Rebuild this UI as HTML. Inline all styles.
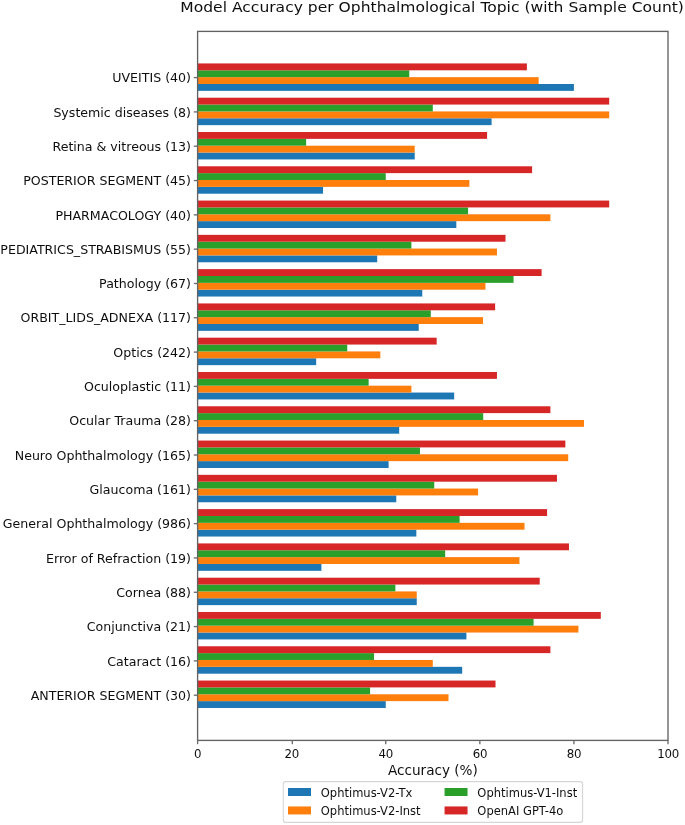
<!DOCTYPE html>
<html lang="en"><head><meta charset="utf-8"><title>Model Accuracy per Ophthalmological Topic</title>
<style>html,body{margin:0;padding:0;background:#fff;}svg{display:block;}text{font-family:"DejaVu Sans","Liberation Sans",sans-serif;fill:#111;}</style></head><body>
<svg width="685" height="825" viewBox="0 0 685 825">
<rect width="685" height="825" fill="#fff"/>
<defs><filter id="soft" x="0" y="0" width="685" height="825" filterUnits="userSpaceOnUse"><feGaussianBlur stdDeviation="0.32"/></filter></defs>
<g filter="url(#soft)">
<g shape-rendering="auto">
<rect x="197.60" y="701.12" width="188.16" height="6.86" fill="#1f77b4"/>
<rect x="197.60" y="694.26" width="250.88" height="6.86" fill="#ff7f0e"/>
<rect x="197.60" y="687.40" width="172.48" height="6.86" fill="#2ca02c"/>
<rect x="197.60" y="680.55" width="297.92" height="6.86" fill="#d62728"/>
<rect x="197.60" y="666.83" width="264.60" height="6.86" fill="#1f77b4"/>
<rect x="197.60" y="659.97" width="235.20" height="6.86" fill="#ff7f0e"/>
<rect x="197.60" y="653.12" width="176.40" height="6.86" fill="#2ca02c"/>
<rect x="197.60" y="646.26" width="352.80" height="6.86" fill="#d62728"/>
<rect x="197.60" y="632.55" width="268.80" height="6.86" fill="#1f77b4"/>
<rect x="197.60" y="625.69" width="380.80" height="6.86" fill="#ff7f0e"/>
<rect x="197.60" y="618.83" width="336.00" height="6.86" fill="#2ca02c"/>
<rect x="197.60" y="611.98" width="403.20" height="6.86" fill="#d62728"/>
<rect x="197.60" y="598.26" width="219.16" height="6.86" fill="#1f77b4"/>
<rect x="197.60" y="591.41" width="219.16" height="6.86" fill="#ff7f0e"/>
<rect x="197.60" y="584.55" width="197.78" height="6.86" fill="#2ca02c"/>
<rect x="197.60" y="577.69" width="342.11" height="6.86" fill="#d62728"/>
<rect x="197.60" y="563.98" width="123.79" height="6.86" fill="#1f77b4"/>
<rect x="197.60" y="557.12" width="321.85" height="6.86" fill="#ff7f0e"/>
<rect x="197.60" y="550.26" width="247.58" height="6.86" fill="#2ca02c"/>
<rect x="197.60" y="543.41" width="371.37" height="6.86" fill="#d62728"/>
<rect x="197.60" y="529.69" width="218.74" height="6.86" fill="#1f77b4"/>
<rect x="197.60" y="522.84" width="326.93" height="6.86" fill="#ff7f0e"/>
<rect x="197.60" y="515.98" width="262.01" height="6.86" fill="#2ca02c"/>
<rect x="197.60" y="509.12" width="349.51" height="6.86" fill="#d62728"/>
<rect x="197.60" y="495.41" width="198.68" height="6.86" fill="#1f77b4"/>
<rect x="197.60" y="488.55" width="280.49" height="6.86" fill="#ff7f0e"/>
<rect x="197.60" y="481.70" width="236.66" height="6.86" fill="#2ca02c"/>
<rect x="197.60" y="474.84" width="359.37" height="6.86" fill="#d62728"/>
<rect x="197.60" y="461.13" width="191.01" height="6.86" fill="#1f77b4"/>
<rect x="197.60" y="454.27" width="370.62" height="6.86" fill="#ff7f0e"/>
<rect x="197.60" y="447.41" width="222.37" height="6.86" fill="#2ca02c"/>
<rect x="197.60" y="440.55" width="367.77" height="6.86" fill="#d62728"/>
<rect x="197.60" y="426.84" width="201.60" height="6.86" fill="#1f77b4"/>
<rect x="197.60" y="419.98" width="386.40" height="6.86" fill="#ff7f0e"/>
<rect x="197.60" y="413.13" width="285.60" height="6.86" fill="#2ca02c"/>
<rect x="197.60" y="406.27" width="352.80" height="6.86" fill="#d62728"/>
<rect x="197.60" y="392.56" width="256.58" height="6.86" fill="#1f77b4"/>
<rect x="197.60" y="385.70" width="213.82" height="6.86" fill="#ff7f0e"/>
<rect x="197.60" y="378.84" width="171.05" height="6.86" fill="#2ca02c"/>
<rect x="197.60" y="371.99" width="299.35" height="6.86" fill="#d62728"/>
<rect x="197.60" y="358.27" width="118.57" height="6.86" fill="#1f77b4"/>
<rect x="197.60" y="351.42" width="182.72" height="6.86" fill="#ff7f0e"/>
<rect x="197.60" y="344.56" width="149.67" height="6.86" fill="#2ca02c"/>
<rect x="197.60" y="337.70" width="239.09" height="6.86" fill="#d62728"/>
<rect x="197.60" y="323.99" width="221.13" height="6.86" fill="#1f77b4"/>
<rect x="197.60" y="317.13" width="285.46" height="6.86" fill="#ff7f0e"/>
<rect x="197.60" y="310.27" width="233.19" height="6.86" fill="#2ca02c"/>
<rect x="197.60" y="303.42" width="297.52" height="6.86" fill="#d62728"/>
<rect x="197.60" y="289.70" width="224.67" height="6.86" fill="#1f77b4"/>
<rect x="197.60" y="282.85" width="287.86" height="6.86" fill="#ff7f0e"/>
<rect x="197.60" y="275.99" width="315.94" height="6.86" fill="#2ca02c"/>
<rect x="197.60" y="269.13" width="344.02" height="6.86" fill="#d62728"/>
<rect x="197.60" y="255.42" width="179.61" height="6.86" fill="#1f77b4"/>
<rect x="197.60" y="248.56" width="299.35" height="6.86" fill="#ff7f0e"/>
<rect x="197.60" y="241.71" width="213.82" height="6.86" fill="#2ca02c"/>
<rect x="197.60" y="234.85" width="307.90" height="6.86" fill="#d62728"/>
<rect x="197.60" y="221.14" width="258.72" height="6.86" fill="#1f77b4"/>
<rect x="197.60" y="214.28" width="352.80" height="6.86" fill="#ff7f0e"/>
<rect x="197.60" y="207.42" width="270.48" height="6.86" fill="#2ca02c"/>
<rect x="197.60" y="200.56" width="411.60" height="6.86" fill="#d62728"/>
<rect x="197.60" y="186.85" width="125.44" height="6.86" fill="#1f77b4"/>
<rect x="197.60" y="179.99" width="271.79" height="6.86" fill="#ff7f0e"/>
<rect x="197.60" y="173.14" width="188.16" height="6.86" fill="#2ca02c"/>
<rect x="197.60" y="166.28" width="334.51" height="6.86" fill="#d62728"/>
<rect x="197.60" y="152.57" width="217.11" height="6.86" fill="#1f77b4"/>
<rect x="197.60" y="145.71" width="217.11" height="6.86" fill="#ff7f0e"/>
<rect x="197.60" y="138.85" width="108.55" height="6.86" fill="#2ca02c"/>
<rect x="197.60" y="132.00" width="289.48" height="6.86" fill="#d62728"/>
<rect x="197.60" y="118.28" width="294.00" height="6.86" fill="#1f77b4"/>
<rect x="197.60" y="111.43" width="411.60" height="6.86" fill="#ff7f0e"/>
<rect x="197.60" y="104.57" width="235.20" height="6.86" fill="#2ca02c"/>
<rect x="197.60" y="97.71" width="411.60" height="6.86" fill="#d62728"/>
<rect x="197.60" y="84.00" width="376.32" height="6.86" fill="#1f77b4"/>
<rect x="197.60" y="77.14" width="341.04" height="6.86" fill="#ff7f0e"/>
<rect x="197.60" y="70.28" width="211.68" height="6.86" fill="#2ca02c"/>
<rect x="197.60" y="63.43" width="329.28" height="6.86" fill="#d62728"/>
</g>
<rect x="197.60" y="31.40" width="470.40" height="709.00" fill="none" stroke="#626262" stroke-width="1.35"/>
<line x1="193.80" y1="695.20" x2="197.60" y2="695.20" stroke="#6c6c6c" stroke-width="1.35"/>
<text x="191.00" y="699.90" font-size="12.60" text-anchor="end">ANTERIOR SEGMENT (30)</text>
<line x1="193.80" y1="660.89" x2="197.60" y2="660.89" stroke="#6c6c6c" stroke-width="1.35"/>
<text x="191.00" y="665.59" font-size="12.60" text-anchor="end">Cataract (16)</text>
<line x1="193.80" y1="626.58" x2="197.60" y2="626.58" stroke="#6c6c6c" stroke-width="1.35"/>
<text x="191.00" y="631.28" font-size="12.60" text-anchor="end">Conjunctiva (21)</text>
<line x1="193.80" y1="592.27" x2="197.60" y2="592.27" stroke="#6c6c6c" stroke-width="1.35"/>
<text x="191.00" y="596.97" font-size="12.60" text-anchor="end">Cornea (88)</text>
<line x1="193.80" y1="557.96" x2="197.60" y2="557.96" stroke="#6c6c6c" stroke-width="1.35"/>
<text x="191.00" y="562.66" font-size="12.60" text-anchor="end">Error of Refraction (19)</text>
<line x1="193.80" y1="523.64" x2="197.60" y2="523.64" stroke="#6c6c6c" stroke-width="1.35"/>
<text x="191.00" y="528.35" font-size="12.60" text-anchor="end">General Ophthalmology (986)</text>
<line x1="193.80" y1="489.33" x2="197.60" y2="489.33" stroke="#6c6c6c" stroke-width="1.35"/>
<text x="191.00" y="494.03" font-size="12.60" text-anchor="end">Glaucoma (161)</text>
<line x1="193.80" y1="455.02" x2="197.60" y2="455.02" stroke="#6c6c6c" stroke-width="1.35"/>
<text x="191.00" y="459.72" font-size="12.60" text-anchor="end">Neuro Ophthalmology (165)</text>
<line x1="193.80" y1="420.71" x2="197.60" y2="420.71" stroke="#6c6c6c" stroke-width="1.35"/>
<text x="191.00" y="425.41" font-size="12.60" text-anchor="end">Ocular Trauma (28)</text>
<line x1="193.80" y1="386.40" x2="197.60" y2="386.40" stroke="#6c6c6c" stroke-width="1.35"/>
<text x="191.00" y="391.10" font-size="12.60" text-anchor="end">Oculoplastic (11)</text>
<line x1="193.80" y1="352.09" x2="197.60" y2="352.09" stroke="#6c6c6c" stroke-width="1.35"/>
<text x="191.00" y="356.79" font-size="12.60" text-anchor="end">Optics (242)</text>
<line x1="193.80" y1="317.78" x2="197.60" y2="317.78" stroke="#6c6c6c" stroke-width="1.35"/>
<text x="191.00" y="322.48" font-size="12.60" text-anchor="end">ORBIT_LIDS_ADNEXA (117)</text>
<line x1="193.80" y1="283.47" x2="197.60" y2="283.47" stroke="#6c6c6c" stroke-width="1.35"/>
<text x="191.00" y="288.17" font-size="12.60" text-anchor="end">Pathology (67)</text>
<line x1="193.80" y1="249.16" x2="197.60" y2="249.16" stroke="#6c6c6c" stroke-width="1.35"/>
<text x="191.00" y="253.86" font-size="12.60" text-anchor="end">PEDIATRICS_STRABISMUS (55)</text>
<line x1="193.80" y1="214.85" x2="197.60" y2="214.85" stroke="#6c6c6c" stroke-width="1.35"/>
<text x="191.00" y="219.55" font-size="12.60" text-anchor="end">PHARMACOLOGY (40)</text>
<line x1="193.80" y1="180.54" x2="197.60" y2="180.54" stroke="#6c6c6c" stroke-width="1.35"/>
<text x="191.00" y="185.24" font-size="12.60" text-anchor="end">POSTERIOR SEGMENT (45)</text>
<line x1="193.80" y1="146.22" x2="197.60" y2="146.22" stroke="#6c6c6c" stroke-width="1.35"/>
<text x="191.00" y="150.92" font-size="12.60" text-anchor="end">Retina &amp; vitreous (13)</text>
<line x1="193.80" y1="111.91" x2="197.60" y2="111.91" stroke="#6c6c6c" stroke-width="1.35"/>
<text x="191.00" y="116.61" font-size="12.60" text-anchor="end">Systemic diseases (8)</text>
<line x1="193.80" y1="77.60" x2="197.60" y2="77.60" stroke="#6c6c6c" stroke-width="1.35"/>
<text x="191.00" y="82.30" font-size="12.60" text-anchor="end">UVEITIS (40)</text>
<line x1="197.60" y1="740.40" x2="197.60" y2="744.20" stroke="#6c6c6c" stroke-width="1.35"/>
<text x="197.70" y="758.20" font-size="11.80" letter-spacing="-0.2" text-anchor="middle">0</text>
<line x1="292.33" y1="740.40" x2="292.33" y2="744.20" stroke="#6c6c6c" stroke-width="1.35"/>
<text x="291.78" y="758.20" font-size="11.80" letter-spacing="-0.2" text-anchor="middle">20</text>
<line x1="385.76" y1="740.40" x2="385.76" y2="744.20" stroke="#6c6c6c" stroke-width="1.35"/>
<text x="385.86" y="758.20" font-size="11.80" letter-spacing="-0.2" text-anchor="middle">40</text>
<line x1="479.84" y1="740.40" x2="479.84" y2="744.20" stroke="#6c6c6c" stroke-width="1.35"/>
<text x="479.94" y="758.20" font-size="11.80" letter-spacing="-0.2" text-anchor="middle">60</text>
<line x1="573.92" y1="740.40" x2="573.92" y2="744.20" stroke="#6c6c6c" stroke-width="1.35"/>
<text x="574.02" y="758.20" font-size="11.80" letter-spacing="-0.2" text-anchor="middle">80</text>
<line x1="668.00" y1="740.40" x2="668.00" y2="744.20" stroke="#6c6c6c" stroke-width="1.35"/>
<text x="668.10" y="758.20" font-size="11.80" letter-spacing="-0.2" text-anchor="middle">100</text>
<text x="432.90" y="774.50" font-size="13.60" text-anchor="middle">Accuracy (%)</text>
<text x="432.10" y="11.90" font-size="14.90" textLength="503.6" lengthAdjust="spacingAndGlyphs" text-anchor="middle">Model Accuracy per Ophthalmological Topic (with Sample Count)</text>
<rect x="283.3" y="781.6" width="299.3" height="40.8" rx="2.3" ry="2.3" fill="#fff" fill-opacity="0.8" stroke="#d6d6d6" stroke-width="1.1"/>
<rect x="288.00" y="788.00" width="23.0" height="8.0" fill="#1f77b4"/>
<text x="320.80" y="796.50" font-size="11.50">Ophtimus-V2-Tx</text>
<rect x="288.00" y="806.45" width="23.0" height="8.0" fill="#ff7f0e"/>
<text x="320.80" y="814.95" font-size="11.50">Ophtimus-V2-Inst</text>
<rect x="444.55" y="788.00" width="23.0" height="8.0" fill="#2ca02c"/>
<text x="477.35" y="796.50" font-size="11.50">Ophtimus-V1-Inst</text>
<rect x="444.55" y="806.45" width="23.0" height="8.0" fill="#d62728"/>
<text x="477.35" y="814.95" font-size="11.50">OpenAI GPT-4o</text>
</g>
</svg></body></html>
